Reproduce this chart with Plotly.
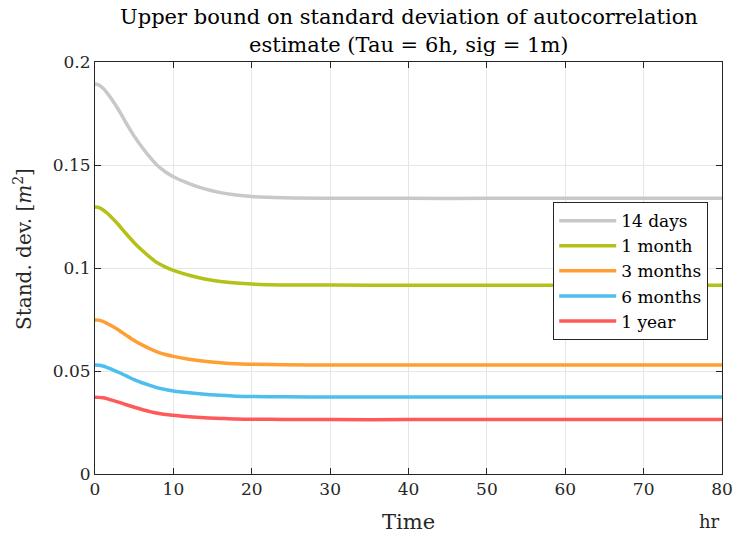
import plotly.graph_objects as go

# Time axis samples (hours)
time_hr = [0, 0.5, 1, 1.5, 2, 3, 4, 5, 6, 7, 8, 9, 10, 12, 14, 16, 18, 20, 24, 30, 40, 50, 60, 70, 80]

# Standard deviation values
sd_14days = [0.1893, 0.1888, 0.1874, 0.1852, 0.1826, 0.1768, 0.1702, 0.1640, 0.1586, 0.1538,
             0.1496, 0.1466, 0.1443, 0.1410, 0.1384, 0.1366, 0.1354, 0.1347, 0.1341, 0.1339,
             0.1338, 0.1338, 0.1338, 0.1338, 0.1338]
sd_1month = [0.1296, 0.1293, 0.1283, 0.1268, 0.1250, 0.1210, 0.1165, 0.1123, 0.1086, 0.1053,
             0.1024, 0.1004, 0.0988, 0.0965, 0.0947, 0.0935, 0.0927, 0.0922, 0.0918, 0.0917,
             0.0916, 0.0916, 0.0916, 0.0916, 0.0916]
sd_3months = [0.0748, 0.0747, 0.0741, 0.0732, 0.0722, 0.0699, 0.0673, 0.0648, 0.0627, 0.0608,
              0.0592, 0.0580, 0.0571, 0.0557, 0.0547, 0.0540, 0.0535, 0.0533, 0.0530, 0.0529,
              0.0529, 0.0529, 0.0529, 0.0529, 0.0529]
sd_6months = [0.0529, 0.0528, 0.0524, 0.0518, 0.0510, 0.0494, 0.0476, 0.0458, 0.0443, 0.0430,
              0.0418, 0.0410, 0.0403, 0.0394, 0.0387, 0.0382, 0.0378, 0.0376, 0.0375, 0.0374,
              0.0374, 0.0374, 0.0374, 0.0374, 0.0374]
sd_1year = [0.0373, 0.0372, 0.0370, 0.0366, 0.0360, 0.0349, 0.0336, 0.0324, 0.0313, 0.0303,
            0.0295, 0.0289, 0.0285, 0.0278, 0.0273, 0.0270, 0.0267, 0.0266, 0.0265, 0.0264,
            0.0264, 0.0264, 0.0264, 0.0264, 0.0264]

series_names = ["14 days", "1 month", "3 months", "6 months", "1 year"]
series_values = [sd_14days, sd_1month, sd_3months, sd_6months, sd_1year]
series_colors = ["#c8c8c8", "#b3c11a", "#ff9f33", "#4dbeee", "#ff5a5a"]

x_ticks = [0, 10, 20, 30, 40, 50, 60, 70, 80]
y_ticks = [0, 0.05, 0.1, 0.15, 0.2]
y_tick_labels = ["0", "0.05", "0.1", "0.15", "0.2"]

FONT = "DejaVu Serif"
AXC = "#262626"

fig = go.Figure()
for name, vals, col in zip(series_names, series_values, series_colors):
    fig.add_trace(go.Scatter(x=time_hr, y=vals, name=name, mode="lines",
                             line=dict(color=col, width=3.5, shape="spline", smoothing=0.8)))

axis_common = dict(showline=True, linecolor=AXC, linewidth=1, mirror="ticks",
                   ticks="inside", ticklen=6, tickcolor=AXC, automargin=False,
                   showgrid=True, gridcolor="#e6e6e6", gridwidth=1, zeroline=False,
                   tickfont=dict(family=FONT, size=17, color=AXC))

fig.update_layout(
    width=735, height=537, autosize=False,
    margin=dict(l=95, r=13, t=62, b=63, pad=0, autoexpand=False),
    paper_bgcolor="white", plot_bgcolor="white",
    font=dict(family=FONT, color=AXC),
    xaxis=dict(range=[0, 80], tickvals=x_ticks, **axis_common),
    yaxis=dict(range=[0, 0.2], tickvals=y_ticks, ticktext=y_tick_labels, **axis_common),
    showlegend=True,
    legend=dict(x=0.978, xanchor="right", y=0.66, yanchor="top",
                bgcolor="white", bordercolor=AXC, borderwidth=1,
                font=dict(family=FONT, size=17, color="#000000"),
                itemwidth=57, tracegroupgap=0),
)

fig.add_annotation(text="Upper bound on standard deviation of autocorrelation",
                   xref="paper", yref="paper", x=0.5, y=1.109,
                   xanchor="center", yanchor="middle", showarrow=False,
                   font=dict(family=FONT, size=21, color="#000000"))
fig.add_annotation(text="estimate (Tau = 6h, sig = 1m)",
                   xref="paper", yref="paper", x=0.5, y=1.041,
                   xanchor="center", yanchor="middle", showarrow=False,
                   font=dict(family=FONT, size=21, color="#000000"))
fig.add_annotation(text="Time", xref="paper", yref="paper", x=0.5, y=-0.1165,
                   xanchor="center", yanchor="middle", showarrow=False,
                   font=dict(family=FONT, size=21, color=AXC))
fig.add_annotation(text="hr", xref="paper", yref="paper", x=1.0, y=-0.1165,
                   xanchor="right", yanchor="middle", showarrow=False,
                   font=dict(family=FONT, size=18, color=AXC))
fig.add_annotation(text="Stand. dev. [<i>m</i><sup>2</sup>]", xref="paper", yref="paper",
                   x=-0.115, y=0.546, xanchor="center", yanchor="middle", textangle=-90,
                   showarrow=False, font=dict(family=FONT, size=20, color=AXC))

fig.write_html("out.html", config={"displayModeBar": False},
               post_script="document.body.style.margin='0';")
